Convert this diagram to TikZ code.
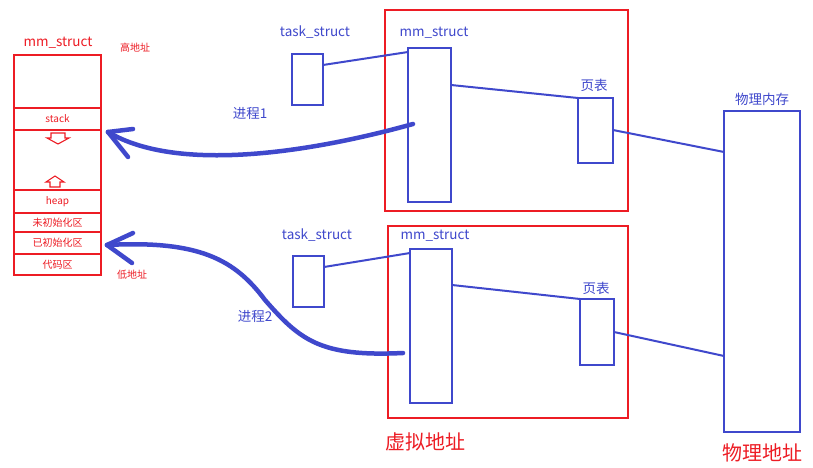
\documentclass[tikz,border=0pt]{standalone}
\usepackage{fontspec}
\setmainfont{Noto Sans CJK SC}
\usetikzlibrary{calc}
\definecolor{pblue}{HTML}{3F48CC}
\definecolor{pred}{HTML}{ED1C24}
\begin{document}
\begin{tikzpicture}[x=1pt,y=-1pt,
  bluebox/.style={draw=pblue, line width=2.2pt, inner sep=0pt, outer sep=0pt, anchor=north west},
  redframe/.style={draw=pred, line width=2.4pt, inner sep=0pt, outer sep=0pt, anchor=north west},
  memseg/.style={draw=pred, line width=1.2pt, inner sep=0pt, outer sep=0pt, anchor=north west,
    minimum width=87pt, text=pred, font=\fontsize{10}{11}\selectfont},
  bluelabel/.style={text=pblue, font=\fontsize{13.5}{15}\selectfont, inner sep=0pt},
  redsmall/.style={text=pred, font=\fontsize{10}{11}\selectfont, inner sep=0pt},
  redbig/.style={text=pred, font=\fontsize{20}{22}\selectfont, inner sep=0pt},
  link/.style={draw=pblue, line width=2pt},
  procarrow/.style={draw=pblue, line width=4.5pt, line cap=round, line join=round},
  hollow/.style={draw=pred, line width=1.1pt, line join=miter}]
\path[use as bounding box, fill=white] (0,0) rectangle (813,468);

% left memory layout
\node[memseg, minimum height=53pt] (segtop) at (14,55) {};
\node[memseg, minimum height=22pt] (segstack) at (14,108) {stack};
\node[memseg, minimum height=60pt] (seggap) at (14,130) {};
\node[memseg, minimum height=23pt] (segheap) at (14,190) {heap};
\node[memseg, minimum height=19pt] (segbss) at (14,213) {未初始化区};
\node[memseg, minimum height=22pt] (segdata) at (14,232) {已初始化区};
\node[memseg, minimum height=21pt] (segcode) at (14,254) {代码区};
\node[text=pred, font=\fontsize{13.5}{15}\selectfont, inner sep=0pt] (memtitle) at (58,43) {mm\_struct};
\node[redsmall] (high) at (135,48) {高地址};
\node[redsmall] (low) at (132,275) {低地址};
\draw[hollow] (51,133) -- (65,133) -- (65,138) -- (69,138) -- (58,144) -- (47,138) -- (51,138) -- cycle;
\draw[hollow] (50,187) -- (60,187) -- (60,182) -- (64,182) -- (55,176) -- (46,182) -- (50,182) -- cycle;

% red frames (virtual address spaces)
\node[redframe, minimum width=243pt, minimum height=201pt] (vspace1) at (385,10) {};
\node[redframe, minimum width=240pt, minimum height=192pt] (vspace2) at (388,226) {};

% process 1
\node[bluebox, minimum width=31pt, minimum height=51pt] (task1) at (292,54) {};
\node[bluebox, minimum width=43pt, minimum height=154pt] (mm1) at (408,48) {};
\node[bluebox, minimum width=35pt, minimum height=65pt] (pt1) at (578,98) {};
\node[bluelabel] (task1lbl) at (315,32) {task\_struct};
\node[bluelabel] (mm1lbl) at (434,33) {mm\_struct};
\node[bluelabel] (pt1lbl) at (594,85) {页表};

% process 2
\node[bluebox, minimum width=31pt, minimum height=51pt] (task2) at (293,256) {};
\node[bluebox, minimum width=42pt, minimum height=154pt] (mm2) at (410,249) {};
\node[bluebox, minimum width=34pt, minimum height=66pt] (pt2) at (580,299) {};
\node[bluelabel] (task2lbl) at (317,235) {task\_struct};
\node[bluelabel] (mm2lbl) at (435,236) {mm\_struct};
\node[bluelabel] (pt2lbl) at (596,288) {页表};

% physical memory
\node[bluebox, minimum width=76pt, minimum height=321pt] (phys) at (724,111) {};
\node[bluelabel] (physlbl) at (762,99) {物理内存};
\node[redbig] (physaddr) at (762,453) {物理地址};
\node[redbig] (virtaddr) at (425,442) {虚拟地址};

% links
\draw[link] ($(task1.north east)+(0,11)$) -- ($(mm1.north west)+(0,4)$);
\draw[link] ($(mm1.north east)+(0,37)$) -- (pt1.north west);
\draw[link] ($(pt1.north east)+(0,32)$) -- ($(phys.north west)+(0,41)$);
\draw[link] ($(task2.north east)+(0,11)$) -- ($(mm2.north west)+(0,4)$);
\draw[link] ($(mm2.north east)+(0,36)$) -- (pt2.north west);
\draw[link] ($(pt2.north east)+(0,33)$) -- ($(phys.north west)+(0,245)$);

% process arrows
\coordinate (tip1) at (108,132);
\coordinate (tip2) at (107,245);
\draw[procarrow] ($(mm1.north west)+(5,76)$) .. controls (320,150) and (180,175) .. (tip1);
\draw[procarrow] (tip1) -- (133,129);
\draw[procarrow] (tip1) -- (128,157);
\draw[procarrow] ($(mm2.north west)+(-7,104)$) .. controls (320,357) and (300,340) .. (265,300)
  .. controls (235,260) and (200,240) .. (tip2);
\draw[procarrow] (tip2) -- (133,233);
\draw[procarrow] (tip2) -- (132,263);
\node[bluelabel] (proc1) at (250,113) {进程1};
\node[bluelabel] (proc2) at (255,316) {进程2};
\end{tikzpicture}
\end{document}
